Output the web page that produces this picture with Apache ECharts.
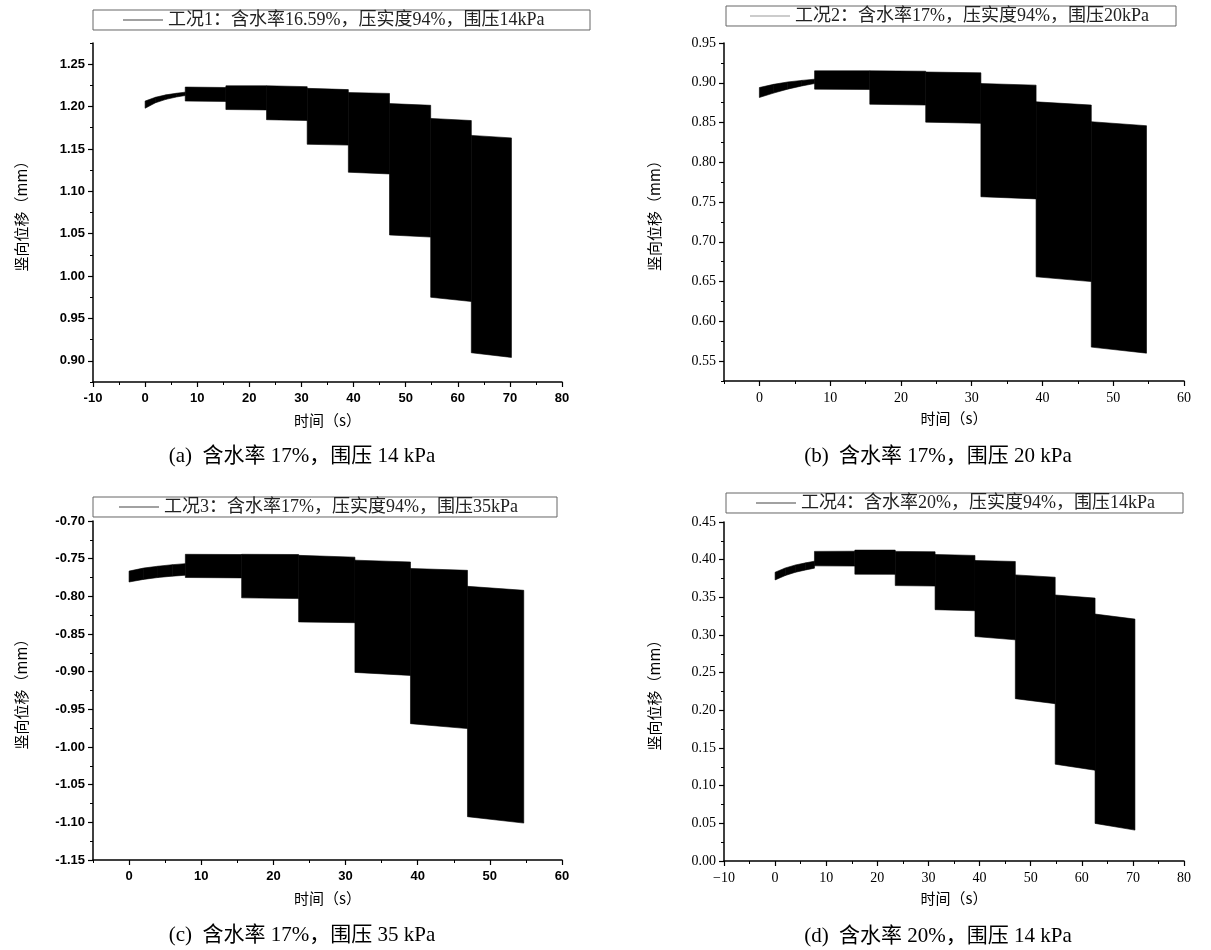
<!DOCTYPE html>
<html>
<head>
<meta charset="utf-8">
<script src="https://cdn.jsdelivr.net/npm/echarts@6/dist/echarts.min.js"></script>
<style>html,body{margin:0;padding:0;background:#fff;}#chart{width:1211px;height:950px;}</style>
</head>
<body>
<div id="chart"></div>
<script>
// ---------- DATA ----------
// Panel (a)
const nameA = '工况1：含水率16.59%，压实度94%，围压14kPa';
const captionA = '(a)  含水率 17%，围压 14 kPa';
const timesA      = [0, 2, 4, 6, 7.7, 15.5, 23.3, 31.1, 39.0, 46.9, 54.8, 62.6, 70.3];
const upperStartA = [1.2065, 1.211, 1.2138, 1.2157, 1.223, 1.2245, 1.2245, 1.2215, 1.2165, 1.2035, 1.186, 1.166];
const upperEndA   = [1.211, 1.2138, 1.2157, 1.217, 1.2225, 1.2245, 1.2235, 1.220, 1.2155, 1.2015, 1.1835, 1.163];
const lowerStartA = [1.198, 1.2045, 1.2085, 1.2113, 1.2065, 1.1965, 1.1845, 1.1555, 1.1225, 1.0485, 0.975, 0.9095];
const lowerEndA   = [1.2045, 1.2085, 1.2113, 1.213, 1.206, 1.196, 1.1835, 1.1545, 1.1205, 1.046, 0.970, 0.904];
const yTickLabelsA = ['0.90','0.95','1.00','1.05','1.10','1.15','1.20','1.25'];
const yMinorA = [0.875, 0.925, 0.975, 1.025, 1.075, 1.125, 1.175, 1.225, 1.275];
const xTickValuesA = [-10, 0, 10, 20, 30, 40, 50, 60, 70, 80];
const xTickLabelsA = ['-10','0','10','20','30','40','50','60','70','80'];
const xMinorA = [-5, 5, 15, 25, 35, 45, 55, 65, 75];

// Panel (b)
const nameB = '工况2：含水率17%，压实度94%，围压20kPa';
const captionB = '(b)  含水率 17%，围压 20 kPa';
const timesB      = [0, 2, 4, 6, 7.8, 15.6, 23.5, 31.3, 39.1, 46.9, 54.7];
const upperStartB = [0.894, 0.898, 0.901, 0.903, 0.915, 0.915, 0.9135, 0.899, 0.876, 0.851];
const upperEndB   = [0.898, 0.901, 0.903, 0.9045, 0.915, 0.9145, 0.9125, 0.897, 0.872, 0.846];
const lowerStartB = [0.8815, 0.887, 0.892, 0.896, 0.892, 0.873, 0.8505, 0.7567, 0.656, 0.5676];
const lowerEndB   = [0.887, 0.892, 0.896, 0.899, 0.8915, 0.872, 0.849, 0.754, 0.650, 0.560];
const yTickLabelsB = ['0.55','0.60','0.65','0.70','0.75','0.80','0.85','0.90','0.95'];
const yMinorB = [0.525, 0.575, 0.625, 0.675, 0.725, 0.775, 0.825, 0.875, 0.925];
const xTickValuesB = [0, 10, 20, 30, 40, 50, 60];
const xTickLabelsB = ['0','10','20','30','40','50','60'];
const xMinorB = [-5, 5, 15, 25, 35, 45, 55];

// Panel (c)
const nameC = '工况3：含水率17%，压实度94%，围压35kPa';
const captionC = '(c)  含水率 17%，围压 35 kPa';
const timesC      = [0, 2, 4, 6, 7.8, 15.6, 23.5, 31.3, 39.0, 46.9, 54.7];
const upperStartC = [-0.7665, -0.7625, -0.7600, -0.7580, -0.7442, -0.7442, -0.7456, -0.752, -0.763, -0.7867];
const upperEndC   = [-0.7625, -0.7600, -0.7580, -0.7566, -0.7445, -0.7445, -0.748, -0.7544, -0.7655, -0.792];
const lowerStartC = [-0.781, -0.7775, -0.775, -0.7732, -0.775, -0.802, -0.834, -0.901, -0.969, -1.0925];
const lowerEndC   = [-0.7775, -0.775, -0.7732, -0.772, -0.7755, -0.803, -0.835, -0.905, -0.9756, -1.101];
const yTickLabelsC = ['-1.15','-1.10','-1.05','-1.00','-0.95','-0.90','-0.85','-0.80','-0.75','-0.70'];
const yMinorC = [-1.125, -1.075, -1.025, -0.975, -0.925, -0.875, -0.825, -0.775, -0.725];
const xTickValuesC = [0, 10, 20, 30, 40, 50, 60];
const xTickLabelsC = ['0','10','20','30','40','50','60'];
const xMinorC = [-5, 5, 15, 25, 35, 45, 55];

// Panel (d)
const nameD = '工况4：含水率20%，压实度94%，围压14kPa';
const captionD = '(d)  含水率 20%，围压 14 kPa';
const timesD      = [0, 2, 4, 6, 7.7, 15.6, 23.5, 31.3, 39.1, 47.0, 54.8, 62.6, 70.4];
const upperStartD = [0.3833, 0.389, 0.393, 0.3958, 0.411, 0.4127, 0.411, 0.4069, 0.3989, 0.3798, 0.3531, 0.3278];
const upperEndD   = [0.389, 0.393, 0.3958, 0.398, 0.4112, 0.4127, 0.4105, 0.4056, 0.3976, 0.3767, 0.349, 0.3211];
const lowerStartD = [0.3731, 0.379, 0.3833, 0.3864, 0.3918, 0.3807, 0.3656, 0.3336, 0.298, 0.2155, 0.1285, 0.0499];
const lowerEndD   = [0.379, 0.3833, 0.3864, 0.3887, 0.3915, 0.3805, 0.3650, 0.3322, 0.2936, 0.2088, 0.1205, 0.041];
const yTickLabelsD = ['0.00','0.05','0.10','0.15','0.20','0.25','0.30','0.35','0.40','0.45'];
const yMinorD = [0.025, 0.075, 0.125, 0.175, 0.225, 0.275, 0.325, 0.375, 0.425];
const xTickValuesD = [-10, 0, 10, 20, 30, 40, 50, 60, 70, 80];
const xTickLabelsD = ['\u221210','0','10','20','30','40','50','60','70','80'];
const xMinorD = [-5, 5, 15, 25, 35, 45, 55, 65, 75];

const yName = '竖向位移（mm）';
const xName = '时间（s）';

// ---------- LAYOUT / STYLE ----------
const SANS = '"Liberation Sans", Arial, "Noto Sans CJK SC", sans-serif';
const SERIF = '"Liberation Serif", "Noto Sans CJK SC", serif';
const CJK = '"Noto Sans CJK SC", "Liberation Serif", serif';

const panels = [
  { name: nameA, caption: captionA, times: timesA, us: upperStartA, ue: upperEndA, ls: lowerStartA, le: lowerEndA,
    yLabels: yTickLabelsA, yMinor: yMinorA, xVals: xTickValuesA, xLabels: xTickLabelsA, xMinor: xMinorA,
    xMin: -10, xMax: 80, yMin: 0.875, yMax: 1.275,
    grid: { left: 93, top: 43, width: 469, height: 339 },
    tickFont: { fontFamily: SANS, fontWeight: 'bold', fontSize: 13 },
    legendBox: { left: 93, top: 10, width: 497, padL: 30 }, legendLine: '#444',
    cap: { x: 302, y: 446 }, yGap: 64, xGap: 31 },
  { name: nameB, caption: captionB, times: timesB, us: upperStartB, ue: upperEndB, ls: lowerStartB, le: lowerEndB,
    yLabels: yTickLabelsB, yMinor: yMinorB, xVals: xTickValuesB, xLabels: xTickLabelsB, xMinor: xMinorB,
    xMin: -5, xMax: 60, yMin: 0.525, yMax: 0.95,
    grid: { left: 724, top: 43, width: 460, height: 338 },
    tickFont: { fontFamily: SERIF, fontWeight: 'normal', fontSize: 14 },
    legendBox: { left: 726, top: 6, width: 450, padL: 24 }, legendLine: '#999',
    cap: { x: 938, y: 446 }, yGap: 62, xGap: 30 },
  { name: nameC, caption: captionC, times: timesC, us: upperStartC, ue: upperEndC, ls: lowerStartC, le: lowerEndC,
    yLabels: yTickLabelsC, yMinor: yMinorC, xVals: xTickValuesC, xLabels: xTickLabelsC, xMinor: xMinorC,
    xMin: -5, xMax: 60, yMin: -1.15, yMax: -0.70,
    grid: { left: 93, top: 521, width: 469, height: 339 },
    tickFont: { fontFamily: SANS, fontWeight: 'bold', fontSize: 13 },
    legendBox: { left: 93, top: 497, width: 464, padL: 26 }, legendLine: '#444',
    cap: { x: 302, y: 925 }, yGap: 64, xGap: 31 },
  { name: nameD, caption: captionD, times: timesD, us: upperStartD, ue: upperEndD, ls: lowerStartD, le: lowerEndD,
    yLabels: yTickLabelsD, yMinor: yMinorD, xVals: xTickValuesD, xLabels: xTickLabelsD, xMinor: xMinorD,
    xMin: -10, xMax: 80, yMin: 0, yMax: 0.45,
    grid: { left: 724, top: 522, width: 460, height: 339 },
    tickFont: { fontFamily: SERIF, fontWeight: 'normal', fontSize: 14 },
    legendBox: { left: 726, top: 493, width: 457, padL: 30 }, legendLine: '#444',
    cap: { x: 938, y: 926 }, yGap: 62, xGap: 30 }
];

const LEGEND_FONT_SIZE = 18;
const measureCtx = document.createElement('canvas').getContext('2d');
function textWidth(str, size, family) {
  measureCtx.font = size + 'px ' + family;
  return measureCtx.measureText(str).width;
}

function renderBand(params, api) {
  const p0 = api.coord([api.value(0), api.value(2)]);
  const p1 = api.coord([api.value(1), api.value(3)]);
  const p2 = api.coord([api.value(1), api.value(5)]);
  const p3 = api.coord([api.value(0), api.value(4)]);
  return {
    type: 'polygon',
    shape: { points: [p0, p1, p2, p3] },
    style: { fill: '#000', stroke: '#000', lineWidth: 0.6 }
  };
}

const grids = [], xAxes = [], yAxes = [], series = [], legends = [], titles = [];

panels.forEach((p, i) => {
  grids.push(Object.assign({ containLabel: false }, p.grid));
  const yVals = p.yLabels.map(Number);
  const axisLine = { show: true, onZero: false, lineStyle: { color: '#000', width: 1.5 } };
  xAxes.push({
    type: 'value', gridIndex: i, min: p.xMin, max: p.xMax, position: 'bottom',
    axisLine, splitLine: { show: false },
    axisTick: { show: true, inside: false, length: 5, customValues: p.xVals, lineStyle: { color: '#000', width: 1.2 } },
    axisLabel: {
      show: true, customValues: p.xVals, margin: 10, color: '#000',
      fontFamily: p.tickFont.fontFamily, fontWeight: p.tickFont.fontWeight, fontSize: p.tickFont.fontSize,
      formatter: (v) => { const k = p.xVals.indexOf(v); return k >= 0 ? p.xLabels[k] : ''; }
    },
    name: xName, nameLocation: 'middle', nameGap: p.xGap,
    nameTextStyle: { fontFamily: CJK, fontSize: 15, color: '#000' }
  });
  yAxes.push({
    type: 'value', gridIndex: i, min: p.yMin, max: p.yMax, position: 'left',
    axisLine, splitLine: { show: false },
    axisTick: { show: true, inside: false, length: 5, customValues: yVals, lineStyle: { color: '#000', width: 1.2 } },
    axisLabel: {
      show: true, customValues: yVals, margin: 8, color: '#000',
      fontFamily: p.tickFont.fontFamily, fontWeight: p.tickFont.fontWeight, fontSize: p.tickFont.fontSize,
      formatter: (v) => { let k = -1; yVals.forEach((y, j) => { if (Math.abs(y - v) < 1e-9) k = j; }); return k >= 0 ? p.yLabels[k] : ''; }
    },
    name: yName, nameLocation: 'middle', nameGap: p.yGap, nameRotate: 90,
    nameTextStyle: { fontFamily: CJK, fontSize: 15, color: '#000' }
  });

  series.push({
    type: 'custom', name: p.name, xAxisIndex: i, yAxisIndex: i,
    renderItem: renderBand,
    encode: { x: [0, 1], y: [2, 3, 4, 5] },
    itemStyle: { color: p.legendLine },
    data: p.us.map((u, k) => [p.times[k], p.times[k + 1], u, p.ue[k], p.ls[k], p.le[k]]),
    silent: true, animation: false
  });

  const tw = textWidth(p.name, LEGEND_FONT_SIZE, SERIF);
  const padR = Math.max(4, p.legendBox.width - p.legendBox.padL - 40 - 5 - tw);
  legends.push({
    left: p.legendBox.left, top: p.legendBox.top, orient: 'horizontal',
    data: [{ name: p.name, icon: 'rect' }],
    itemWidth: 40, itemHeight: 1, itemGap: 0,
    padding: [1, padR, 1, p.legendBox.padL],
    borderColor: '#666', borderWidth: 1, selectedMode: false,
    itemStyle: { color: p.legendLine },
    textStyle: { fontFamily: SERIF, fontSize: LEGEND_FONT_SIZE, color: '#222' }
  });

  titles.push({
    text: p.caption, left: p.cap.x, top: p.cap.y, textAlign: 'center', padding: 0,
    textStyle: { fontFamily: SERIF, fontSize: 21, fontWeight: 'normal', color: '#000' }
  });
});

// minor tick axes
panels.forEach((p, i) => {
  xAxes.push({
    type: 'value', gridIndex: i, min: p.xMin, max: p.xMax, position: 'bottom',
    axisLine: { show: false, onZero: false }, splitLine: { show: false }, axisLabel: { show: false },
    axisTick: { show: true, inside: false, length: 3, customValues: p.xMinor, lineStyle: { color: '#000', width: 1 } }
  });
  yAxes.push({
    type: 'value', gridIndex: i, min: p.yMin, max: p.yMax, position: 'left',
    axisLine: { show: false, onZero: false }, splitLine: { show: false }, axisLabel: { show: false },
    axisTick: { show: true, inside: false, length: 3, customValues: p.yMinor, lineStyle: { color: '#000', width: 1 } }
  });
});

const chart = echarts.init(document.getElementById('chart'), null, { renderer: 'canvas' });
chart.setOption({
  backgroundColor: '#fff',
  animation: false,
  title: titles,
  legend: legends,
  grid: grids,
  xAxis: xAxes,
  yAxis: yAxes,
  series: series
});
</script>
</body>
</html>
